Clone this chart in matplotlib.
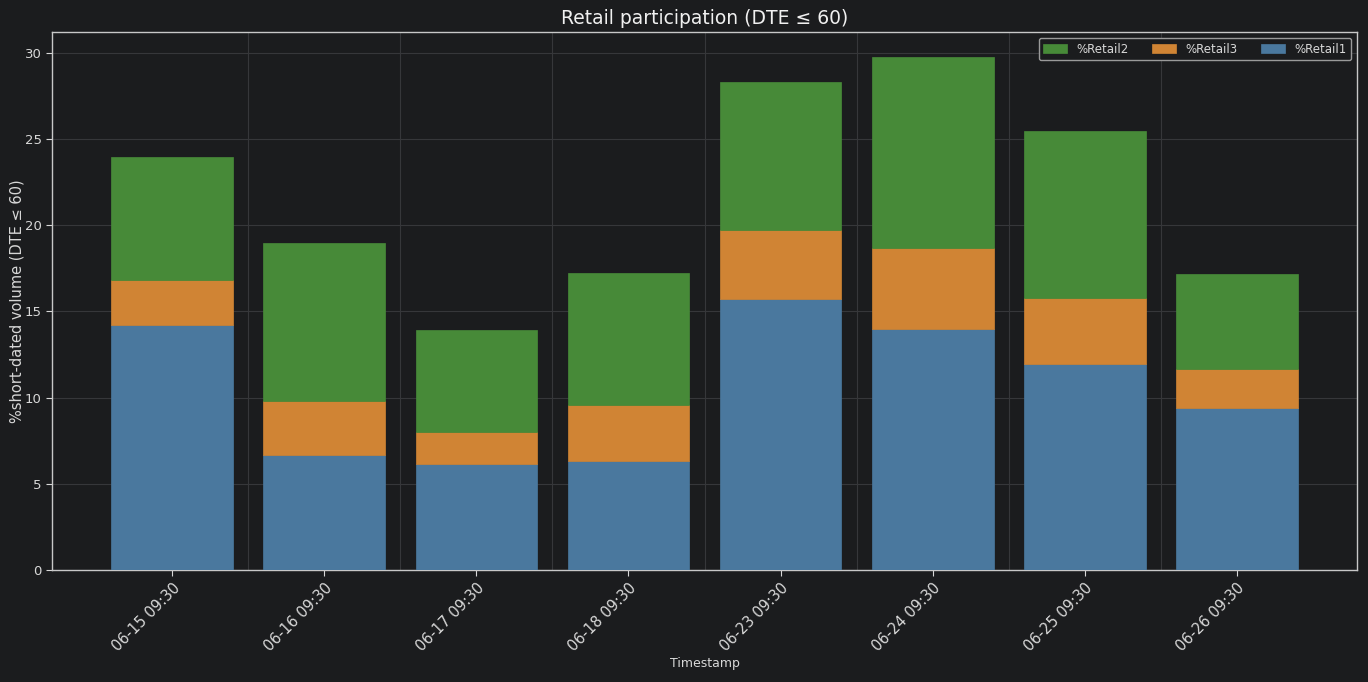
import matplotlib
matplotlib.use("Agg")
import matplotlib.pyplot as plt
import numpy as np

timestamps = ["06-15 09:30", "06-16 09:30", "06-17 09:30", "06-18 09:30",
              "06-23 09:30", "06-24 09:30", "06-25 09:30", "06-26 09:30"]
retail1 = [14.22, 6.67, 6.15, 6.33, 15.73, 13.99, 11.96, 9.40]
retail3 = [2.61, 3.14, 1.86, 3.25, 4.00, 4.70, 3.83, 2.27]
retail2 = [7.14, 9.17, 5.92, 7.66, 8.59, 11.08, 9.69, 5.51]

bg = "#1b1c1e"
c1 = "#4a789e"
c3 = "#d08434"
c2 = "#478a38"
txt = "#d8d8d8"

fig = plt.figure(figsize=(13.68, 6.82), dpi=100, facecolor=bg)
ax = fig.add_axes([0.038, 0.164, 0.954, 0.789])
ax.set_facecolor(bg)

x = np.arange(len(timestamps))
r1 = np.array(retail1)
r3 = np.array(retail3)
r2 = np.array(retail2)
b1 = ax.bar(x, r1, width=0.8, color=c1, edgecolor=c1, linewidth=0.5, label="%Retail1", zorder=3)
b3 = ax.bar(x, r3, width=0.8, bottom=r1, color=c3, edgecolor=c3, linewidth=0.5, label="%Retail3", zorder=3)
b2 = ax.bar(x, r2, width=0.8, bottom=r1 + r3, color=c2, edgecolor=c2, linewidth=0.5, label="%Retail2", zorder=3)

ax.set_ylim(0, 31.2)
ax.set_yticks([0, 5, 10, 15, 20, 25, 30])
ax.set_xticks(x)
ax.set_xticklabels(timestamps, rotation=45, ha="right", rotation_mode="anchor")
ax.set_xticks(x[:-1] + 0.5, minor=True)
ax.tick_params(axis="x", which="minor", length=0)
ax.grid(True, axis="y", which="major", color="#36373a", linewidth=0.8, zorder=0)
ax.grid(True, axis="x", which="minor", color="#36373a", linewidth=0.8, zorder=0)

ax.tick_params(axis="y", which="major", colors=txt, labelsize=9.5, length=4)
ax.tick_params(axis="x", which="major", colors=txt, labelsize=10.5, length=4)
for s in ax.spines.values():
    s.set_color("#c8c8c8")
    s.set_linewidth(1.0)

ax.set_title("Retail participation (DTE ≤ 60)", color="#f0f0f0", fontsize=13.5, pad=6)
ax.set_ylabel("%short-dated volume (DTE ≤ 60)", color=txt, fontsize=10.5, labelpad=0)
ax.set_xlabel("Timestamp", color=txt, fontsize=9, labelpad=2)

handles = [b2, b3, b1]
leg = ax.legend(handles=handles, labels=["%Retail2", "%Retail3", "%Retail1"],
                loc="upper right", ncol=3, fontsize=8.5, frameon=True,
                facecolor=bg, edgecolor="#9a9a9a", labelcolor=txt,
                handlelength=2.0, columnspacing=2.0, borderaxespad=0.5)
leg.get_frame().set_alpha(1.0)

fig.savefig("out.png", dpi=100, facecolor=bg)
